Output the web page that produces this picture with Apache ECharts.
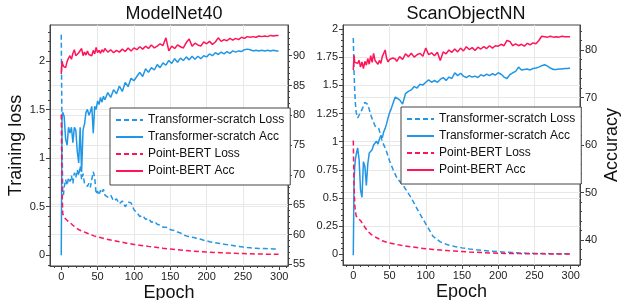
<!DOCTYPE html>
<html>
<head>
<meta charset="utf-8">
<script src="https://cdn.jsdelivr.net/npm/echarts@6.0.0/dist/echarts.min.js"></script>
<style>
  html, body { margin: 0; padding: 0; background: #fff; }
  #chart { width: 622px; height: 300px; }
</style>
</head>
<body>
<div id="chart"></div>
<script>
// epochs used by the noisy curves
const epochs = [
  0, 1, 2, 3, 4, 6, 8, 10, 12, 14,
  16, 18, 20, 22, 24, 26, 28, 30, 32, 34,
  36, 38, 40, 42, 44, 46, 48, 50, 52, 54,
  56, 58, 60, 64, 68, 72, 76, 80, 84, 88,
  92, 96, 100, 104, 108, 112, 116, 120, 124, 128,
  132, 136, 140, 144, 148, 152, 156, 160, 164, 168,
  172, 176, 180, 184, 188, 192, 196, 200, 204, 208,
  212, 216, 220, 224, 228, 232, 236, 240, 244, 248,
  252, 256, 260, 264, 268, 272, 276, 280, 284, 288,
  292, 296, 299
];
// epochs used by the smooth loss curves
const epochsSmooth = [
  0, 1, 2, 3, 4, 6, 8, 10, 13, 16,
  20, 25, 30, 35, 40, 45, 50, 55, 60, 70,
  80, 90, 100, 110, 120, 130, 140, 150, 160, 170,
  180, 190, 200, 210, 220, 230, 240, 250, 260, 270,
  280, 290, 299
];

// ModelNet40
const mnTransLoss = [
  2.27, 1.25, 0.66, 0.62, 0.70, 0.78, 0.72, 0.80, 0.76, 0.82,
  0.74, 0.85, 0.80, 0.88, 0.82, 0.92, 0.78, 0.84, 0.74, 0.76,
  0.71, 0.74, 0.70, 0.78, 0.86, 0.80, 0.63, 0.66, 0.62, 0.67,
  0.64, 0.68, 0.62, 0.60, 0.62, 0.56, 0.58, 0.53, 0.56, 0.50,
  0.55, 0.54, 0.47, 0.44, 0.40, 0.41, 0.37, 0.38, 0.34, 0.35,
  0.32, 0.31, 0.29, 0.29, 0.27, 0.26, 0.255, 0.24, 0.23, 0.21,
  0.20, 0.19, 0.185, 0.18, 0.17, 0.165, 0.155, 0.15, 0.14, 0.135,
  0.13, 0.125, 0.12, 0.115, 0.11, 0.105, 0.10, 0.095, 0.09, 0.087,
  0.083, 0.08, 0.078, 0.075, 0.073, 0.071, 0.07, 0.069, 0.068, 0.067,
  0.066, 0.066, 0.065
];
const mnTransAcc = [
  56.5, 79.5, 80.5, 80.2, 79.8, 76.0, 75.0, 78.0, 77.0, 78.0,
  75.4, 78.0, 77.5, 74.0, 72.0, 78.0, 70.5, 77.6, 78.5, 80.5,
  81.0, 80.0, 80.6, 81.5, 77.0, 81.5, 81.0, 82.4, 81.8, 83.0,
  82.2, 83.2, 82.6, 83.8, 83.0, 84.3, 83.6, 84.9, 84.0, 85.5,
  84.8, 86.2, 85.8, 86.5, 87.2, 86.5, 87.8, 87.2, 88.0, 87.6,
  88.5, 88.0, 88.8, 88.4, 89.2, 88.7, 89.5, 88.9, 89.6, 89.2,
  89.8, 89.3, 89.9, 89.4, 89.9, 89.5, 90.0, 89.8, 90.3, 90.0,
  90.5, 90.2, 90.6, 90.3, 90.7, 90.4, 90.8, 90.6, 90.8, 90.7,
  91.0, 91.1, 91.0, 90.8, 90.9, 90.8, 90.9, 90.8, 90.9, 90.8,
  90.9, 90.8, 90.8
];
const mnBertLoss = [
  1.45, 0.70, 0.43, 0.41, 0.39, 0.37, 0.36, 0.345, 0.33, 0.31,
  0.285, 0.26, 0.245, 0.23, 0.215, 0.20, 0.19, 0.18, 0.17, 0.155,
  0.14, 0.125, 0.112, 0.102, 0.092, 0.083, 0.073, 0.065, 0.057, 0.05,
  0.044, 0.039, 0.034, 0.03, 0.026, 0.023, 0.02, 0.018, 0.016, 0.014,
  0.012, 0.011, 0.01
];
const mnBertAcc = [
  86.9, 89.1, 88.6, 88.2, 87.9, 88.0, 89.0, 89.6, 90.0, 89.4,
  90.4, 91.0, 90.0, 89.8, 90.5, 90.2, 91.2, 90.0, 90.6, 90.1,
  90.8, 90.2, 90.4, 90.0, 90.9, 90.3, 91.4, 90.5, 90.9, 90.4,
  91.0, 90.6, 91.2, 90.6, 91.0, 90.5, 90.9, 90.6, 91.1, 90.7,
  91.3, 90.8, 91.3, 91.0, 91.5, 91.1, 91.6, 91.2, 91.8, 91.3,
  91.6, 92.0, 91.7, 93.0, 90.8, 91.6, 91.2, 91.8, 91.5, 91.3,
  92.2, 92.8, 91.6, 92.1, 91.8, 91.6, 92.3, 92.0, 92.4, 91.9,
  92.3, 93.0, 92.4, 92.7, 92.5, 92.9, 92.6, 92.9, 92.7, 93.1,
  92.9, 93.2, 93.1, 93.2, 93.1, 93.3, 93.2, 93.3, 93.2, 93.4,
  93.3, 93.4, 93.4
];

// ScanObjectNN
const snTransLoss = [
  1.92, 1.62, 1.45, 1.33, 1.26, 1.21, 1.22, 1.26, 1.30, 1.35,
  1.33, 1.22, 1.14, 1.12, 1.00, 0.93, 0.83, 0.75, 0.68, 0.60,
  0.50, 0.38, 0.27, 0.16, 0.11, 0.085, 0.07, 0.057, 0.048, 0.04,
  0.034, 0.028, 0.023, 0.019, 0.015, 0.012, 0.01, 0.008, 0.007, 0.006,
  0.005, 0.005, 0.005
];
const snTransAcc = [
  36.8, 52.0, 55.5, 57.0, 58.0, 59.4, 57.0, 50.5, 49.0, 56.5,
  55.5, 51.5, 56.0, 58.3, 58.5, 59.0, 60.0, 59.6, 60.8, 60.2,
  61.2, 62.0, 61.5, 62.8, 63.5, 64.5, 65.7, 66.8, 67.5, 68.4,
  69.3, 70.1, 70.3, 69.5, 68.6, 70.8, 71.3, 71.6, 72.3, 72.0,
  72.8, 72.6, 73.2, 73.7, 73.2, 73.6, 73.2, 73.8, 74.2, 73.6,
  74.3, 74.0, 75.2, 74.6, 75.1, 74.5, 74.2, 74.6, 74.3, 74.5,
  74.2, 74.8, 74.5, 74.9, 74.6, 75.0, 74.7, 75.2, 74.9, 74.3,
  74.0, 74.8, 75.2, 75.5, 76.4, 75.8, 75.9, 76.0, 75.8, 76.1,
  76.2, 76.4, 76.7, 76.9, 76.6, 76.2, 75.9, 75.9, 76.0, 76.0,
  76.1, 76.1, 76.2
];
const snBertLoss = [
  1.01, 0.62, 0.44, 0.38, 0.34, 0.32, 0.31, 0.30, 0.27, 0.24,
  0.205, 0.175, 0.155, 0.138, 0.12, 0.11, 0.10, 0.094, 0.087, 0.075,
  0.066, 0.058, 0.049, 0.043, 0.038, 0.033, 0.029, 0.025, 0.021, 0.018,
  0.015, 0.012, 0.01, 0.008, 0.007, 0.006, 0.005, 0.004, 0.004, 0.003,
  0.003, 0.003, 0.003
];
const snBertAcc = [
  75.8, 78.9, 77.4, 77.0, 77.8, 77.2, 77.8, 76.4, 77.5, 76.1,
  77.6, 76.8, 78.2, 77.0, 78.8, 77.4, 79.3, 77.8, 78.2, 77.0,
  77.8, 77.2, 78.6, 78.4, 80.0, 78.2, 77.5, 78.0, 77.6, 78.3,
  77.9, 78.1, 77.6, 78.6, 78.0, 79.2, 78.6, 79.3, 78.5, 79.0,
  79.3, 78.7, 80.4, 79.0, 79.4, 78.8, 79.5, 77.8, 79.6, 79.2,
  80.0, 79.5, 80.2, 79.6, 80.4, 79.8, 80.7, 80.1, 80.5, 79.9,
  80.6, 80.2, 80.7, 80.3, 80.9, 80.4, 80.9, 80.8, 81.2, 80.9,
  82.0, 81.8, 80.9, 81.3, 80.9, 81.2, 80.8, 81.4, 81.1, 81.5,
  81.3, 82.0, 82.9, 82.8, 82.7, 82.9, 82.7, 82.8, 82.7, 82.9,
  82.8, 82.8, 82.8
];

// tick labels
const xTicks = [0, 50, 100, 150, 200, 250, 300];
const lossTicksL = [0, 0.5, 1, 1.5, 2];
const accTicksL = [55, 60, 65, 70, 75, 80, 85, 90];
const lossTicksR = [0, 0.25, 0.5, 0.75, 1, 1.25, 1.5, 1.75, 2];
const accTicksR = [40, 50, 60, 70, 80];

const names = ["Transformer-scratch Loss", "Transformer-scratch Acc", "Point-BERT Loss", "Point-BERT Acc"];

const FONT = "'Liberation Sans', Arial, Helvetica, sans-serif";
const BLUE = "#2196e6";
const RED = "#ff1458";
const AXIS = "#444";
const GRIDLINE = "#e8e8e8";

const chart = echarts.init(document.getElementById("chart"));

function pairs(xs, ys) {
  return xs.map((x, i) => [x, ys[i]]);
}

function axis(min, max, step, ticks, extra) {
  return Object.assign({
    type: "value",
    min: min,
    max: max,
    minInterval: step,
    maxInterval: step,
    nameLocation: "middle",
    nameMoveOverlap: false,
    nameTextStyle: { color: "#111", fontSize: 18, fontFamily: FONT },
    axisLine: { show: true, onZero: false, lineStyle: { color: AXIS, width: 1 } },
    axisTick: { show: true, length: 4, customValues: ticks, lineStyle: { color: AXIS } },
    minorTick: { show: true, splitNumber: 5, length: 2, lineStyle: { color: AXIS } },
    axisLabel: { color: "#222", fontSize: 11, fontFamily: FONT, margin: 5, customValues: ticks },
    splitLine: { show: true, showMinLine: false, showMaxLine: false, lineStyle: { color: GRIDLINE, width: 1 } },
  }, extra);
}

function line(name, xi, yi, xs, ys, color, dashed) {
  return {
    name: name,
    type: "line",
    xAxisIndex: xi,
    yAxisIndex: yi,
    data: pairs(xs, ys),
    symbol: "none",
    showSymbol: false,
    lineStyle: { color: color, width: 1.5, type: dashed ? [5, 3] : "solid" },
    itemStyle: { color: color },
  };
}

function legend(left, top) {
  return {
    left: left,
    top: top,
    orient: "vertical",
    itemWidth: 27,
    itemHeight: 14,
    itemGap: 5,
    padding: [6, 6, 8, 5],
    backgroundColor: "#fff",
    borderColor: AXIS,
    borderWidth: 1,
    borderRadius: 0,
    itemStyle: { opacity: 0 },
    textStyle: { color: "#111", fontSize: 12, fontFamily: FONT },
    data: names,
  };
}

const option = {
  animation: false,
  backgroundColor: "#fff",
  title: [
    { text: "ModelNet40", left: 169, top: 0, textAlign: "center",
      textStyle: { color: "#111", fontSize: 18, fontWeight: "normal", fontFamily: FONT } },
    { text: "ScanObjectNN", left: 461, top: 0, textAlign: "center",
      textStyle: { color: "#111", fontSize: 18, fontWeight: "normal", fontFamily: FONT } },
  ],
  legend: [legend(110, 108), legend(401, 107)],
  grid: [
    { left: 50, top: 25, width: 238, height: 241, show: true, borderColor: AXIS, borderWidth: 1, outerBoundsMode: "none", containLabel: false },
    { left: 343, top: 25, width: 237, height: 240, show: true, borderColor: AXIS, borderWidth: 1, outerBoundsMode: "none", containLabel: false },
  ],
  xAxis: [
    axis(-15.5, 312, 50, xTicks, { gridIndex: 0, name: "Epoch", nameGap: 18 }),
    axis(-14.2, 312.8, 50, xTicks, { gridIndex: 1, name: "Epoch", nameGap: 18 }),
  ],
  yAxis: [
    axis(-0.110, 2.371, 0.5, lossTicksL, { gridIndex: 0, position: "left", name: "Training loss", nameGap: 25 }),
    axis(54.71, 95.15, 5, accTicksL, { gridIndex: 0, position: "right" }),
    axis(-0.095, 2.036, 0.25, lossTicksR, { gridIndex: 1, position: "left" }),
    axis(34.74, 85.26, 10, accTicksR, { gridIndex: 1, position: "right", name: "Accuracy", nameGap: 23 }),
  ],
  series: [
    line(names[0], 0, 0, epochs, mnTransLoss, BLUE, true),
    line(names[1], 0, 1, epochs, mnTransAcc, BLUE, false),
    line(names[2], 0, 0, epochsSmooth, mnBertLoss, RED, true),
    line(names[3], 0, 1, epochs, mnBertAcc, RED, false),
    line(names[0], 1, 2, epochsSmooth, snTransLoss, BLUE, true),
    line(names[1], 1, 3, epochs, snTransAcc, BLUE, false),
    line(names[2], 1, 2, epochsSmooth, snBertLoss, RED, true),
    line(names[3], 1, 3, epochs, snBertAcc, RED, false),
  ],
};

chart.setOption(option);

window.addEventListener("resize", function () {
  chart.resize();
});
</script>
</body>
</html>
